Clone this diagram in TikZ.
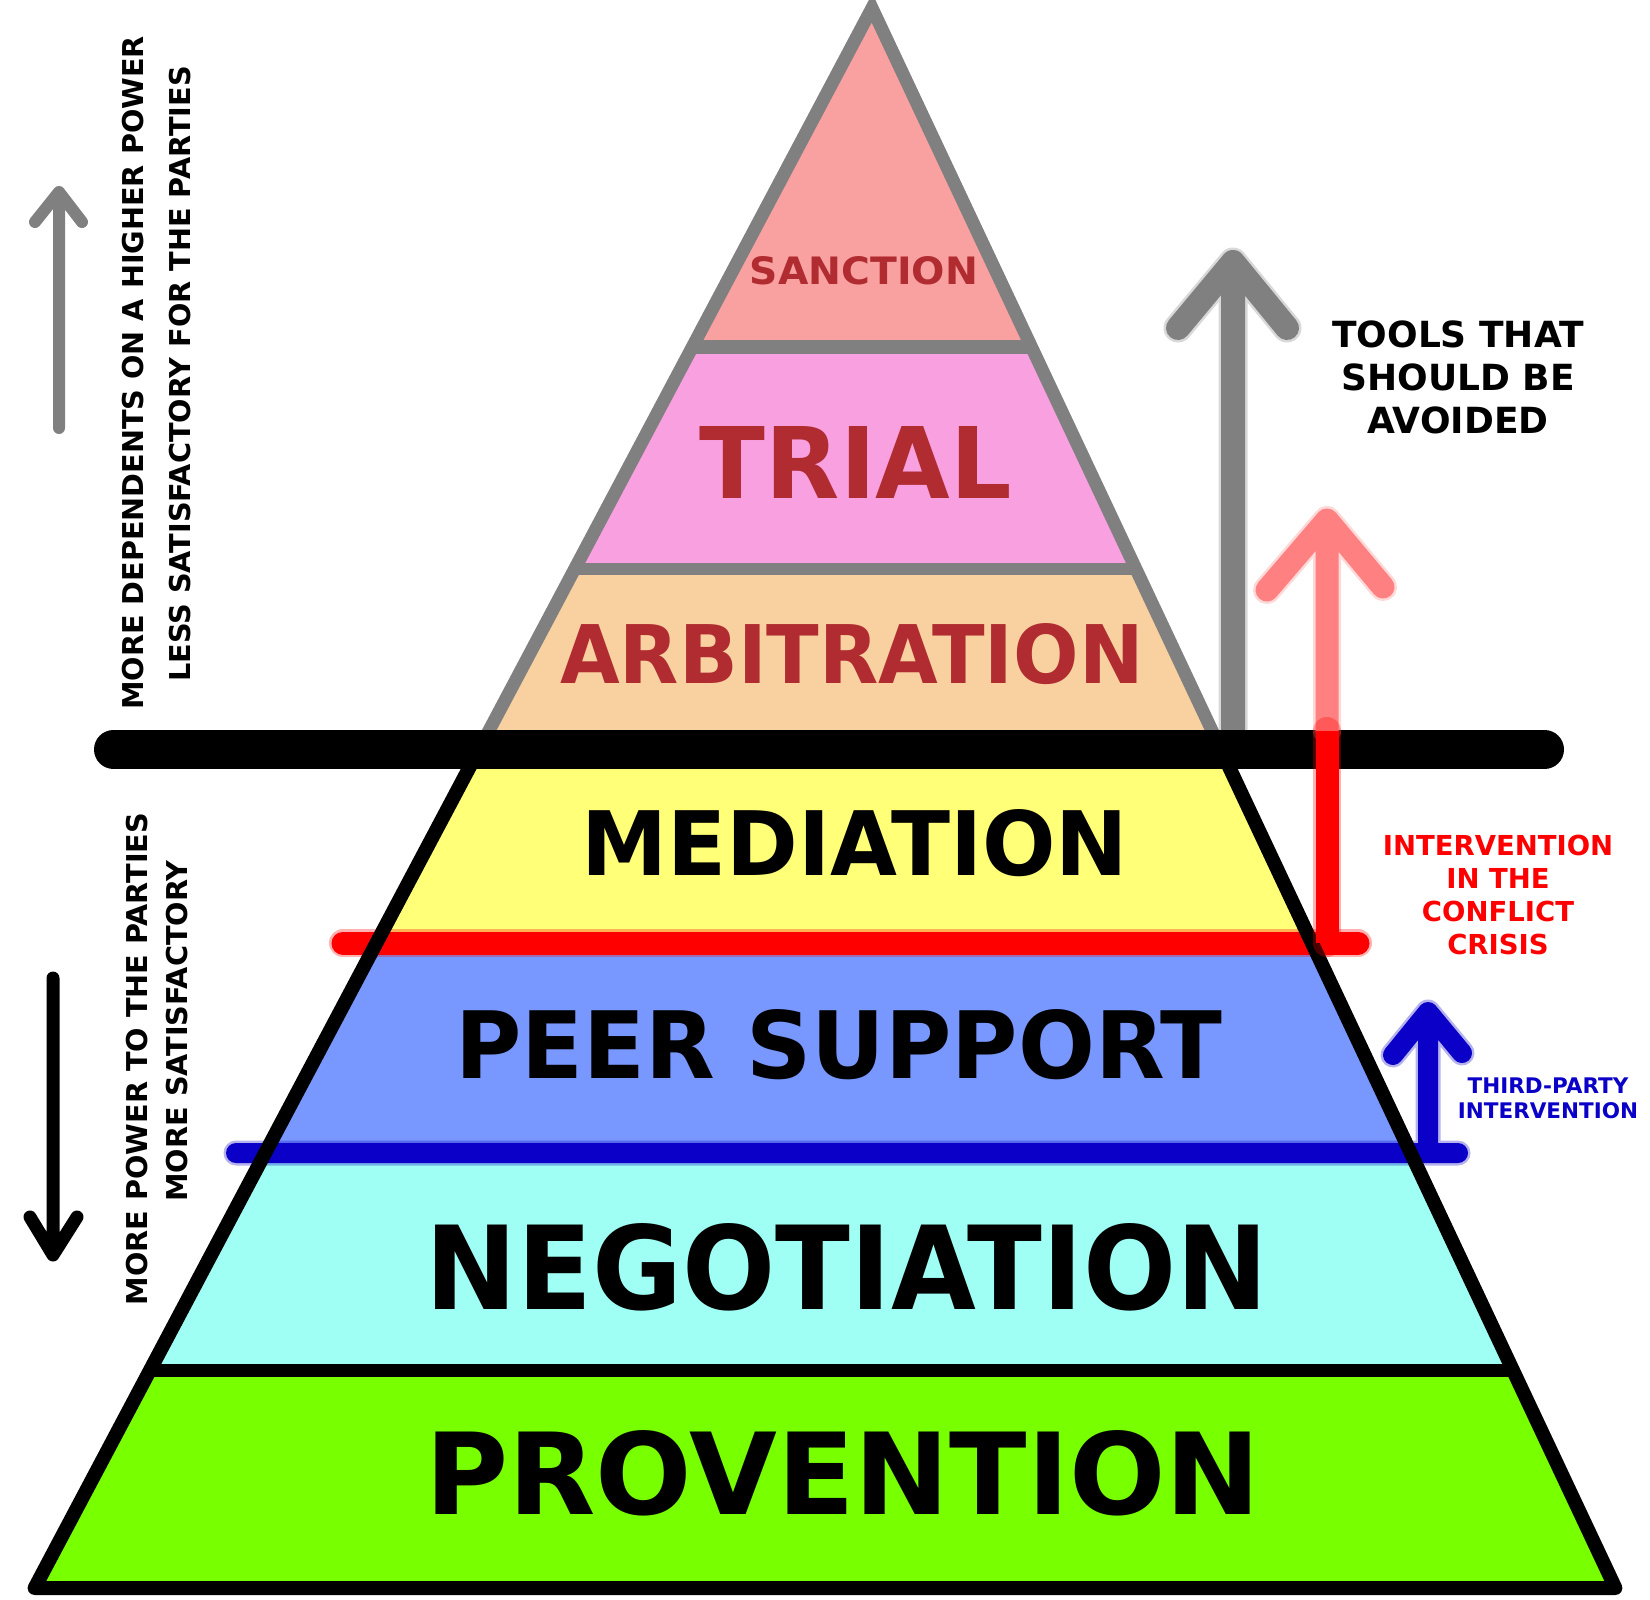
\documentclass[tikz,border=0pt]{standalone}
\usepackage{fontspec}
\usepackage{graphicx}
\setmainfont{DejaVu Sans}
\definecolor{csanction}{RGB}{249,160,160}
\definecolor{ctrial}{RGB}{249,160,224}
\definecolor{carbit}{RGB}{249,208,160}
\definecolor{cmed}{RGB}{255,255,120}
\definecolor{cpeer}{RGB}{120,152,255}
\definecolor{cneg}{RGB}{160,255,244}
\definecolor{cprov}{RGB}{120,255,0}
\definecolor{cdark}{RGB}{176,44,48}
\definecolor{cgray}{RGB}{128,128,128}
\definecolor{cpink}{RGB}{255,128,128}
\definecolor{cred}{RGB}{255,0,0}
\definecolor{cblue}{RGB}{10,0,200}
\newcommand\fitlbl[3]{\resizebox{#1pt}{#2pt}{\bfseries #3}}
\begin{document}
\begin{tikzpicture}[x=1pt,y=-1pt,
  lbl/.style={inner sep=0pt, outer sep=0pt},
  side/.style={inner sep=0pt, rotate=90, font=\fontsize{28.7}{34}\selectfont\bfseries},
  grayedge/.style={draw=cgray, line width=13pt, line join=miter},
  blackedge/.style={draw=black, line width=14pt, line join=round, line cap=round},
  arrowline/.style={line cap=round, line join=round},
  halo/.style n args={2}{preaction={draw=#1, opacity=.3, line width=#2, line cap=round, line join=round}},
]
\useasboundingbox (0,0) rectangle (1650,1600);
\fill[white] (0,0) rectangle (1650,1600);
% coordinates of the pyramid
\coordinate (apex) at (872,8);
\coordinate (bl) at (34.6,1588);
\coordinate (br) at (1615.4,1588);
\coordinate (gl) at (478.7,750);
\coordinate (gr) at (1221.1,750);
% layer fills
\begin{scope}
\clip (apex) -- (bl) -- (br) -- cycle;
\fill[csanction] (0,0) rectangle (1650,347);
\fill[ctrial] (0,347) rectangle (1650,569);
\fill[carbit] (0,569) rectangle (1650,750);
\fill[cmed] (0,750) rectangle (1650,943);
\fill[cpeer] (0,943) rectangle (1650,1153);
\fill[cneg] (0,1153) rectangle (1650,1370);
\fill[cprov] (0,1370) rectangle (1650,1600);
\end{scope}
% upper gray outline
\coordinate (s1) at (692.3,347);
\coordinate (s2) at (1031.5,347);
\coordinate (t1) at (574.7,569);
\coordinate (t2) at (1136,569);
\draw[grayedge] (gl) -- (apex) -- (gr);
\draw[draw=cgray, line width=14pt] (s1) -- (s2);
\draw[draw=cgray, line width=12pt] (t1) -- (t2);
% red and blue horizontal lines
\coordinate (r1) at (343,943);
\coordinate (r2) at (1358,943);
\coordinate (rv) at (1327,943);
\coordinate (rb) at (1327,731);
\draw[cred, line width=23pt, arrowline, halo={cred}{28pt}] (r1) -- (r2);
\coordinate (b1) at (236,1153);
\coordinate (b2) at (1458,1153);
\coordinate (bv) at (1428,1153);
\coordinate (bt) at (1428,1012);
\coordinate (bw1) at (1393,1055);
\coordinate (bw2) at (1462,1053);
\draw[cblue, line width=20pt, arrowline, halo={cblue}{25pt}] (b1) -- (b2) (bv) -- (bt) (bw1) -- (bt) -- (bw2);
% lower black outline
\coordinate (n1) at (150.1,1370);
\coordinate (n2) at (1512.8,1370);
\draw[blackedge] (gl) -- (bl) -- (br) -- (gr);
\draw[draw=black, line width=13pt] (n1) -- (n2);
% gray arrow (tools to avoid)
\coordinate (ga) at (1233,745);
\coordinate (gt) at (1233,262);
\coordinate (gw1) at (1178,328);
\coordinate (gw2) at (1287,328);
\draw[cgray, line width=24pt, arrowline, halo={cgray}{29pt}] (ga) -- (gt) (gw1) -- (gt) -- (gw2);
% black bar
\coordinate (bar1) at (113.5,749.5);
\coordinate (bar2) at (1544.5,749.5);
\draw[black, line width=39pt, line cap=round] (bar1) -- (bar2);
% red vertical and pink arrow
\coordinate (pt) at (1327,520);
\coordinate (pw1) at (1267,590);
\coordinate (pw2) at (1383,587);
\draw[cpink, line width=23pt, arrowline, halo={cpink}{28pt}] (rb) -- (pt) (pw1) -- (pt) -- (pw2);
\draw[cred, line width=23pt, halo={cred}{28pt}] (rv) -- (rb);
% left arrows
\coordinate (la1) at (59,428);
\coordinate (la2) at (59,192);
\coordinate (law1) at (35,222);
\coordinate (law2) at (82,222);
\draw[cgray, line width=12pt, arrowline] (la1) -- (la2) (law1) -- (la2) -- (law2);
\coordinate (lb1) at (53,978);
\coordinate (lb2) at (53,1255);
\coordinate (lbw1) at (30,1217);
\coordinate (lbw2) at (77,1217);
\draw[black, line width=13pt, arrowline] (lb1) -- (lb2) (lbw1) -- (lb2) -- (lbw2);
% side texts
\node[side] (sd1) at (133,373) {MORE DEPENDENTS ON A HIGHER POWER};
\node[side] (sd2) at (180,374) {LESS SATISFACTORY FOR THE PARTIES};
\node[side] (sd3) at (137.5,1059) {MORE POWER TO THE PARTIES};
\node[side] (sd4) at (177.5,1031) {MORE SATISFACTORY};
% pyramid labels
\node[lbl, text=cdark] (lsan) at (864,271) {\fitlbl{228}{28}{SANCTION}};
\node[lbl, text=cdark] (ltri) at (856,462) {\fitlbl{312}{72}{TRIAL}};
\node[lbl, text=cdark] (larb) at (852,654) {\fitlbl{583}{60}{ARBITRATION}};
\node[lbl] (lmed) at (855,843) {\fitlbl{546}{66}{MEDIATION}};
\node[lbl] (lpeer) at (839,1044.5) {\fitlbl{767}{69}{PEER SUPPORT}};
\node[lbl] (lneg) at (847,1267) {\fitlbl{842}{86}{NEGOTIATION}};
\node[lbl] (lprov) at (843,1473) {\fitlbl{835}{84}{PROVENTION}};
% right texts
\node[inner sep=0pt, align=center, font=\fontsize{36}{43}\selectfont\bfseries] (tools) at (1458,377.5) {TOOLS THAT\\SHOULD BE\\AVOIDED};
\node[inner sep=0pt, align=center, text=cred, font=\fontsize{27.5}{33}\selectfont\bfseries] (crisis) at (1498,895) {INTERVENTION\\IN THE\\CONFLICT\\CRISIS};
\node[inner sep=0pt, align=center, text=cblue, font=\fontsize{21.5}{25}\selectfont\bfseries] (third) at (1548,1098.5) {THIRD-PARTY\\INTERVENTION};
\end{tikzpicture}
\end{document}
